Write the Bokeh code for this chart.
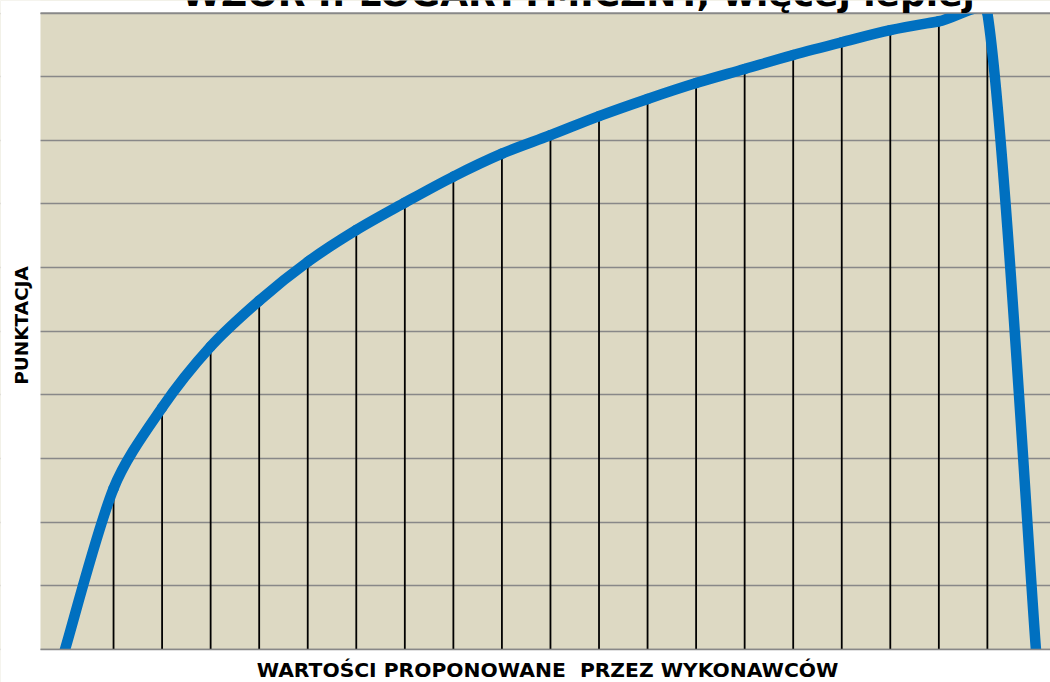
import math
from bokeh.plotting import figure
from bokeh.models import Range1d, Grid, FixedTicker, Label
from bokeh.embed import file_html
from bokeh.resources import INLINE

# ---- data ----
offers = list(range(0, 21))                       # positions of the offers (categories)
scores = [0, 25.3, 38.0, 47.6, 54.8, 60.9, 65.9, 70.2, 74.3, 77.9, 80.8,
          83.8, 86.5, 89.0, 91.2, 93.4, 95.4, 97.3, 98.7, 100, 0]
y_ticks = list(range(0, 101, 10))
title_text = "WZÓR I: LOGARYTMICZNY, więcej lepiej"
x_label = "WARTOŚCI PROPONOWANE \u00a0PRZEZ WYKONAWCÓW"
y_label = "PUNKTACJA"

FONT = "DejaVu Sans"
GRID = "#888888"
XS, YS = 48.55, 6.365      # approximate px per data unit (used only to weight smoothing)

# plot-area limits and the canvas extent around it (white margins are masked)
X0, X1 = -0.505, 20.3
XC0 = -1.3285
Y_BOT, Y_TOP = y_ticks[0], y_ticks[-1]
YC0, YC1 = -5.185, 101.964

p = figure(width=1050, height=682, output_backend="svg", toolbar_location=None,
           x_range=Range1d(XC0, X1), y_range=Range1d(YC0, YC1),
           x_axis_location=None, y_axis_location=None, title=None,
           min_border_left=0, min_border_right=0, min_border_top=0, min_border_bottom=0,
           background_fill_color="#DDD9C3", border_fill_color="white",
           outline_line_color=None)

p.grid.visible = False
p.add_layout(Grid(dimension=1, ticker=FixedTicker(ticks=y_ticks),
                  grid_line_color=GRID, grid_line_width=1.7))

# drop lines (under the curve)
px = offers[1:-1]
py = scores[1:-1]
p.segment(x0=px, y0=[0] * len(px), x1=px, y1=py, line_color="black", line_width=1.8)

# smoothed curve: Bezier control points from neighbouring data points
n = len(offers)

def dist(i, j):
    return math.hypot((offers[j] - offers[i]) * XS, (scores[j] - scores[i]) * YS)

x0s, y0s, x1s, y1s, cx0, cy0, cx1, cy1 = [], [], [], [], [], [], [], []
for i in range(n - 1):
    a = max(i - 1, 0)
    b = min(i + 2, n - 1)
    f0 = 1 / 6
    if 0 < i:
        f0 *= min(1.0, 2 * dist(i, i + 1) / (dist(i - 1, i) + dist(i, i + 1)))
    f1 = 1 / 6
    if i + 1 < n - 1:
        f1 *= min(1.0, 2 * dist(i, i + 1) / (dist(i, i + 1) + dist(i + 1, i + 2)))
    x0s.append(offers[i]); y0s.append(scores[i])
    x1s.append(offers[i + 1]); y1s.append(scores[i + 1])
    cx0.append(offers[i] + (offers[i + 1] - offers[a]) * f0)
    cy0.append(scores[i] + (scores[i + 1] - scores[a]) * f0)
    cx1.append(offers[i + 1] - (offers[b] - offers[i]) * f1)
    cy1.append(scores[i + 1] - (scores[b] - scores[i]) * f1)
p.bezier(x0=x0s, y0=y0s, x1=x1s, y1=y1s, cx0=cx0, cy0=cy0, cx1=cx1, cy1=cy1,
         line_color="#0070C0", line_width=10.5, line_cap="round")

# white margins around the plot area (they clip the curve like the chart's frame)
p.quad(left=[XC0, XC0, XC0], right=[X1, X1, X0],
       bottom=[Y_TOP, YC0, YC0], top=[YC1, Y_BOT, YC1],
       fill_color="white", line_color=None)
# frame lines at the bottom and top of the plot area
p.segment(x0=[X0, X0], y0=[Y_BOT, Y_TOP], x1=[X1, X1], y1=[Y_BOT, Y_TOP],
          line_color=GRID, line_width=1.7)

# texts
p.add_layout(Label(x=10.57, y=99.8, text=title_text, text_font=FONT, text_font_style="bold",
                   text_font_size="36px", text_align="center", text_baseline="bottom",
                   text_color="black"))
p.add_layout(Label(x=9.94, y=-5.15, text=x_label, text_font=FONT, text_font_style="bold",
                   text_font_size="20.3px", text_align="center", text_baseline="bottom",
                   text_color="black"))
p.add_layout(Label(x=-0.904, y=50.9, text=y_label, text_font=FONT, text_font_style="bold",
                   text_font_size="18.5px", text_align="center", text_baseline="middle",
                   angle=math.pi / 2, text_color="black"))

open("out.html", "w").write(file_html(p, INLINE))
